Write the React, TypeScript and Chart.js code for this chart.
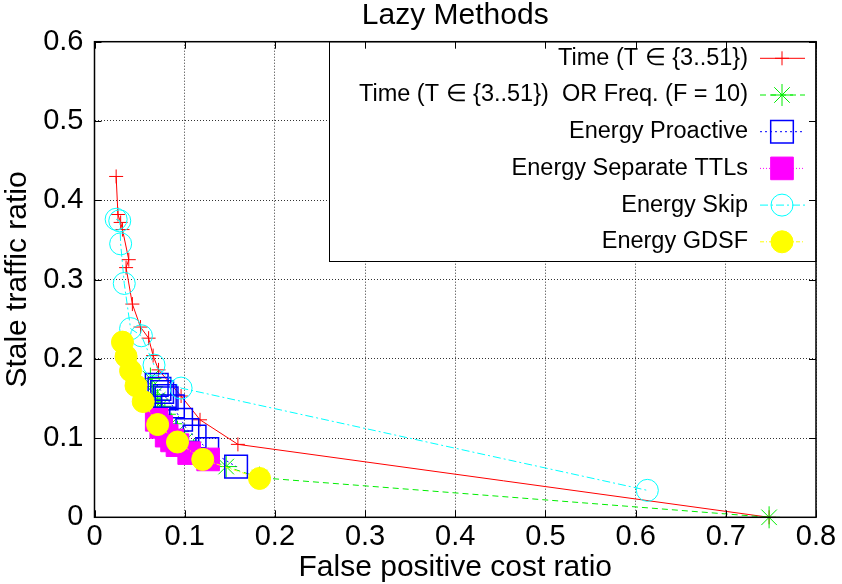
import React, { useEffect, useRef } from 'react';
import { Chart, registerables } from 'chart.js';
import { drawPoint } from 'chart.js/helpers';

Chart.register(...registerables);

const FONT = "'Liberation Sans', Arial, Helvetica, sans-serif";

const chartTitle = 'Lazy Methods';
const xAxisTitle = 'False positive cost ratio';
const yAxisTitle = 'Stale traffic ratio';

const xTickValues = [0, 0.1, 0.2, 0.3, 0.4, 0.5, 0.6, 0.7, 0.8];
const xTickLabels = ['0', '0.1', '0.2', '0.3', '0.4', '0.5', '0.6', '0.7', '0.8'];
const yTickValues = [0, 0.1, 0.2, 0.3, 0.4, 0.5, 0.6];
const yTickLabels = ['0', '0.1', '0.2', '0.3', '0.4', '0.5', '0.6'];

const seriesLabels = [
  'Time (T \u2208 {3..51})',
  'Time (T \u2208 {3..51})  OR Freq. (F = 10)',
  'Energy Proactive',
  'Energy Separate TTLs',
  'Energy Skip',
  'Energy GDSF',
];

const timeX = [0.024, 0.026, 0.029, 0.031, 0.038, 0.035, 0.042, 0.051, 0.060, 0.065, 0.071, 0.096, 0.117, 0.159, 0.748];
const timeY = [0.430, 0.382, 0.372, 0.363, 0.325, 0.315, 0.269, 0.240, 0.226, 0.204, 0.186, 0.153, 0.123, 0.092, 0.0];

const freqX = [0.062, 0.064, 0.067, 0.070, 0.073, 0.078, 0.085, 0.092, 0.100, 0.110, 0.126, 0.146, 0.183, 0.748];
const freqY = [0.175, 0.165, 0.155, 0.148, 0.140, 0.130, 0.118, 0.108, 0.096, 0.085, 0.074, 0.064, 0.050, 0.0];

const proactiveX = [0.069, 0.072, 0.075, 0.078, 0.080, 0.087, 0.096, 0.103, 0.111, 0.125, 0.157];
const proactiveY = [0.167, 0.162, 0.158, 0.153, 0.150, 0.140, 0.123, 0.110, 0.102, 0.086, 0.064];

const separateX = [0.069, 0.074, 0.080, 0.086, 0.092, 0.105, 0.126];
const separateY = [0.123, 0.114, 0.103, 0.097, 0.091, 0.081, 0.073];

const skipX = [0.024, 0.028, 0.029, 0.033, 0.040, 0.052, 0.066, 0.096, 0.613];
const skipY = [0.376, 0.374, 0.345, 0.295, 0.238, 0.229, 0.192, 0.163, 0.034];

const gdsfX = [0.031, 0.035, 0.040, 0.046, 0.054, 0.070, 0.092, 0.120, 0.183];
const gdsfY = [0.221, 0.203, 0.185, 0.166, 0.146, 0.117, 0.095, 0.073, 0.049];

const toPoints = (xs: number[], ys: number[]) => xs.map((x, i) => ({ x, y: ys[i] }));

const gnuplotKey = {
  id: 'gnuplotKey',
  afterDatasetsDraw(chart: any) {
    const { ctx, chartArea } = chart;
    const { right, top } = chartArea;
    const boxLeft = right - 487;
    const boxBottom = top + 219;
    ctx.save();
    ctx.fillStyle = '#ffffff';
    ctx.fillRect(boxLeft, top, right - boxLeft, boxBottom - top);
    ctx.strokeStyle = '#000000';
    ctx.lineWidth = 1;
    ctx.strokeRect(Math.round(boxLeft) + 0.5, top, right - Math.round(boxLeft) - 0.5, Math.round(boxBottom) + 0.5 - top);
    chart.data.datasets.forEach((ds: any, i: number) => {
      const y = top + 16.6 + i * 36.7;
      ctx.font = `23.5px ${FONT}`;
      ctx.textAlign = 'right';
      ctx.textBaseline = 'middle';
      ctx.fillStyle = '#000000';
      ctx.fillText(ds.label, right - 68, y);
      ctx.setLineDash(ds.borderDash || []);
      ctx.strokeStyle = ds.borderColor;
      ctx.lineWidth = ds.borderWidth;
      ctx.beginPath();
      ctx.moveTo(right - 56, y);
      ctx.lineTo(right - 11, y);
      ctx.stroke();
      ctx.setLineDash([]);
      ctx.fillStyle = ds.pointBackgroundColor;
      ctx.strokeStyle = ds.pointBorderColor;
      ctx.lineWidth = ds.pointBorderWidth;
      drawPoint(ctx, { pointStyle: ds.pointStyle, radius: ds.pointRadius, borderWidth: ds.pointBorderWidth, rotation: 0 } as any, right - 34, y);
    });
    ctx.restore();
  },
};

const gnuplotFrame = {
  id: 'gnuplotFrame',
  afterDraw(chart: any) {
    const { ctx, chartArea, scales } = chart;
    const { left, right, top, bottom } = chartArea;
    ctx.save();
    ctx.strokeStyle = '#000000';
    ctx.lineWidth = 1;
    ctx.setLineDash([]);
    ctx.beginPath();
    xTickValues.forEach((v) => {
      const px = Math.round(scales.x.getPixelForValue(v)) + 0.5;
      ctx.moveTo(px, bottom);
      ctx.lineTo(px, bottom - 7);
      ctx.moveTo(px, top);
      ctx.lineTo(px, top + 7);
    });
    yTickValues.forEach((v) => {
      const py = Math.round(scales.y.getPixelForValue(v)) + 0.5;
      ctx.moveTo(left, py);
      ctx.lineTo(left + 7, py);
      ctx.moveTo(right, py);
      ctx.lineTo(right - 7, py);
    });
    ctx.stroke();
    ctx.lineWidth = 1.5;
    ctx.strokeRect(left, top, right - left, bottom - top);
    ctx.restore();
  },
};

export default function App() {
  const canvasRef = useRef<HTMLCanvasElement | null>(null);

  useEffect(() => {
    if (!canvasRef.current) return;
    const mk = (
      label: string,
      data: { x: number; y: number }[],
      color: string,
      dash: number[],
      pointStyle: string,
      radius: number,
      fill: string,
      pbw: number,
      order: number
    ) => ({
      label,
      data,
      borderColor: color,
      backgroundColor: color,
      borderWidth: 1,
      borderDash: dash,
      pointStyle,
      pointRadius: radius,
      pointHoverRadius: radius,
      pointBorderColor: color,
      pointBackgroundColor: fill,
      pointBorderWidth: pbw,
      showLine: true,
      tension: 0,
      clip: false as any,
      order,
    });

    const chart = new Chart(canvasRef.current, {
      type: 'scatter',
      data: {
        datasets: [
          mk(seriesLabels[0], toPoints(timeX, timeY), '#ff0000', [], 'cross', 7, '#ff0000', 1, 6),
          mk(seriesLabels[1], toPoints(freqX, freqY), '#00ee00', [6, 4], 'star', 11, '#00ee00', 1, 5),
          mk(seriesLabels[2], toPoints(proactiveX, proactiveY), '#0000ff', [2, 3], 'rect', 16, 'rgba(0,0,0,0)', 1.5, 4),
          mk(seriesLabels[3], toPoints(separateX, separateY), '#ff00ff', [1, 2], 'rect', 16, '#ff00ff', 1, 3),
          mk(seriesLabels[4], toPoints(skipX, skipY), '#00ffff', [8, 3, 2, 3], 'circle', 11, 'rgba(0,0,0,0)', 1, 2),
          mk(seriesLabels[5], toPoints(gdsfX, gdsfY), '#ffff00', [4, 2, 1, 2], 'circle', 11, '#ffff00', 1, 1),
        ] as any,
      },
      options: {
        responsive: false,
        animation: false,
        layout: { padding: { left: 0, right: 26, top: 0, bottom: 0 } },
        plugins: {
          legend: { display: false },
          tooltip: { enabled: false },
          title: {
            display: true,
            text: chartTitle,
            fullSize: false,
            color: '#000000',
            font: { family: FONT, size: 30, weight: 'normal', lineHeight: 1 },
            padding: { top: 1, bottom: 10.7 },
          },
        },
        scales: {
          x: {
            type: 'linear',
            min: 0,
            max: 0.8,
            afterBuildTicks: (s: any) => {
              s.ticks = xTickValues.map((v) => ({ value: v }));
            },
            afterFit: (s: any) => {
              s.height = 66.7;
            },
            ticks: {
              callback: (_v: any, i: number) => xTickLabels[i],
              color: '#000000',
              font: { family: FONT, size: 29 },
              padding: 2,
              maxRotation: 0,
              autoSkip: false,
            },
            grid: { color: 'rgba(0,0,0,0.8)', lineWidth: 1, drawTicks: false },
            border: { display: false, dash: [1, 2] },
            title: {
              display: true,
              text: xAxisTitle,
              color: '#000000',
              font: { family: FONT, size: 30, lineHeight: 1 },
              padding: { top: 0, bottom: 1 },
            },
          },
          y: {
            type: 'linear',
            min: 0,
            max: 0.6,
            afterBuildTicks: (s: any) => {
              s.ticks = yTickValues.map((v) => ({ value: v }));
            },
            afterFit: (s: any) => {
              s.width = 94.5;
            },
            ticks: {
              callback: (_v: any, i: number) => yTickLabels[i],
              color: '#000000',
              font: { family: FONT, size: 29 },
              padding: 11,
              autoSkip: false,
            },
            grid: { color: 'rgba(0,0,0,0.8)', lineWidth: 1, drawTicks: false },
            border: { display: false, dash: [1, 2] },
            title: {
              display: true,
              text: yAxisTitle,
              color: '#000000',
              font: { family: FONT, size: 30, lineHeight: 1 },
              padding: { top: 3, bottom: 0 },
            },
          },
        },
      } as any,
      plugins: [gnuplotKey, gnuplotFrame],
    });

    return () => {
      chart.destroy();
    };
  }, []);

  return (
    <div style={{ position: 'absolute', left: 0, top: 0, width: 842, height: 584, background: '#ffffff' }}>
      <canvas ref={canvasRef} width={842} height={584} style={{ display: 'block' }} />
    </div>
  );
}
